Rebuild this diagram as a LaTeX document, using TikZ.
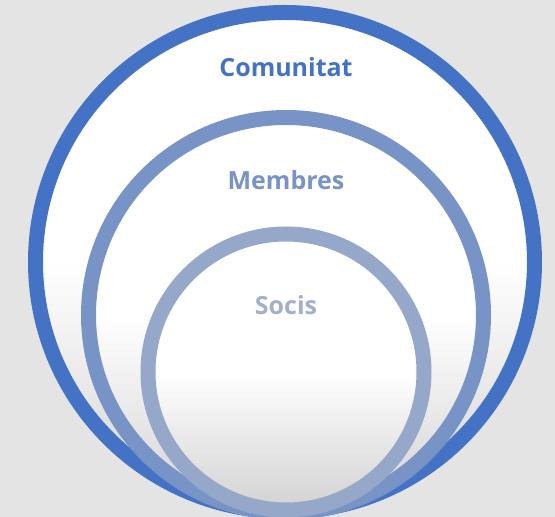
\documentclass[tikz,border=0pt]{standalone}
\usepackage{fontspec}
\setsansfont{Open Sans}
\RequirePackage{xcolor}
\definecolor{ringdark}{HTML}{4472C4}
\definecolor{ringmid}{HTML}{7894C7}
\definecolor{ringlight}{HTML}{96A8C9}
\definecolor{textlight}{HTML}{A2B0CB}
\definecolor{backgray}{HTML}{E4E4E4}
\definecolor{fillgray}{HTML}{D2D2D2}
\tikzset{every picture/.style={/utils/exec={\sffamily}}}
\tikzset{
  ring/.style={circle, inner sep=0pt, line width=15pt, draw=#1,
    top color=white, bottom color=fillgray, middle color=white},
  ringtext/.style={anchor=base, text=#1,
    font=\fontsize{25}{30}\selectfont\bfseries}
}

\begin{document}
\begin{tikzpicture}[x=1pt,y=1pt]
  \fill[backgray] (0,0) rectangle (555,517);
  \useasboundingbox (0,0) rectangle (555,517);

  \node [ring=ringdark, minimum size=499pt] (comunitat) at (285,255) {};
  \node [ring=ringmid, minimum size=395pt] (membres) at (286,202) {};
  \node [ring=ringlight, minimum size=276pt] (socis) at (286,145) {};

  \node [ringtext=ringdark] (tcom) at (286,440) {Comunitat};
  \node [ringtext=ringmid] (tmem) at (286,327) {Membres};
  \node [ringtext=textlight] (tsoc) at (286,202) {Socis};
\end{tikzpicture}
\end{document}
